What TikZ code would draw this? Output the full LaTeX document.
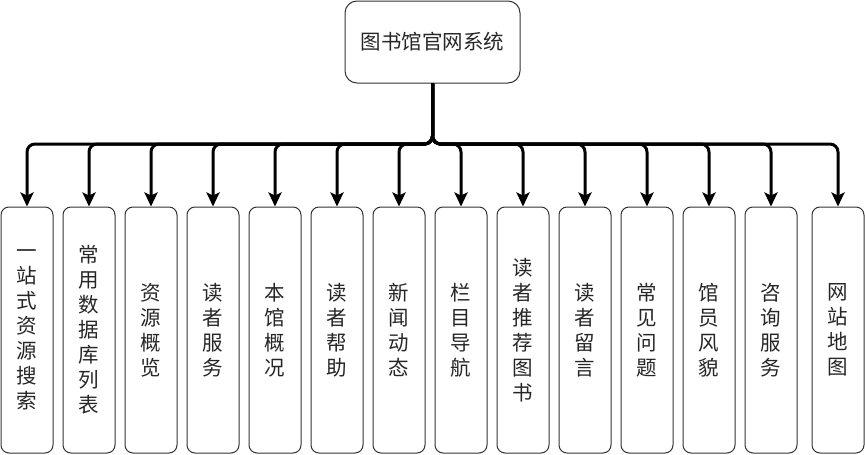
\documentclass[tikz,border=0pt]{standalone}
\usepackage{fontspec}
\setmainfont{Noto Sans CJK SC}
\usetikzlibrary{arrows.meta}

\begin{document}
\begin{tikzpicture}[x=1pt, y=-1pt,
  topbox/.style={draw=black!80, line width=1pt, rounded corners=12pt, inner sep=0pt, minimum width=175pt, minimum height=82pt, text=black!85, font=\fontsize{20.5}{25}\selectfont},
  modbox/.style={draw=black!80, line width=1pt, rounded corners=8pt, inner sep=0pt, minimum width=52pt, minimum height=246pt, align=center, text=black!85, font=\fontsize{20.5}{25}\selectfont},
  branch/.style={line width=3pt, line join=round, rounded corners=8pt, -{Stealth[length=14pt, width=13pt, inset=3pt]}}]
\useasboundingbox (0,0) rectangle (865,455);
\node[topbox] (sys) at (432.5,42) {图书馆官网系统};
\coordinate (bus) at (432.5,144);
\node[modbox] (m1) at (27,330) {一\\站\\式\\资\\源\\搜\\索};
\node[modbox] (m2) at (89,330) {常\\用\\数\\据\\库\\列\\表};
\node[modbox] (m3) at (151,330) {资\\源\\概\\览};
\node[modbox] (m4) at (213,330) {读\\者\\服\\务};
\node[modbox] (m5) at (275,330) {本\\馆\\概\\况};
\node[modbox] (m6) at (337,330) {读\\者\\帮\\助};
\node[modbox] (m7) at (399,330) {新\\闻\\动\\态};
\node[modbox] (m8) at (461,330) {栏\\目\\导\\航};
\node[modbox] (m9) at (523,330) {读\\者\\推\\荐\\图\\书};
\node[modbox] (m10) at (585,330) {读\\者\\留\\言};
\node[modbox] (m11) at (647,330) {常\\见\\问\\题};
\node[modbox] (m12) at (709,330) {馆\\员\\风\\貌};
\node[modbox] (m13) at (771,330) {咨\\询\\服\\务};
\node[modbox] (m14) at (838,330) {网\\站\\地\\图};
% branches from the top box
\draw[branch] (sys.south) -- (bus) -| (m1.north);
\draw[branch] (sys.south) -- (bus) -| (m2.north);
\draw[branch] (sys.south) -- (bus) -| (m3.north);
\draw[branch] (sys.south) -- (bus) -| (m4.north);
\draw[branch] (sys.south) -- (bus) -| (m5.north);
\draw[branch] (sys.south) -- (bus) -| (m6.north);
\draw[branch] (sys.south) -- (bus) -| (m7.north);
\draw[branch] (sys.south) -- (bus) -| (m8.north);
\draw[branch] (sys.south) -- (bus) -| (m9.north);
\draw[branch] (sys.south) -- (bus) -| (m10.north);
\draw[branch] (sys.south) -- (bus) -| (m11.north);
\draw[branch] (sys.south) -- (bus) -| (m12.north);
\draw[branch] (sys.south) -- (bus) -| (m13.north);
\draw[branch] (sys.south) -- (bus) -| (m14.north);
\end{tikzpicture}
\end{document}
